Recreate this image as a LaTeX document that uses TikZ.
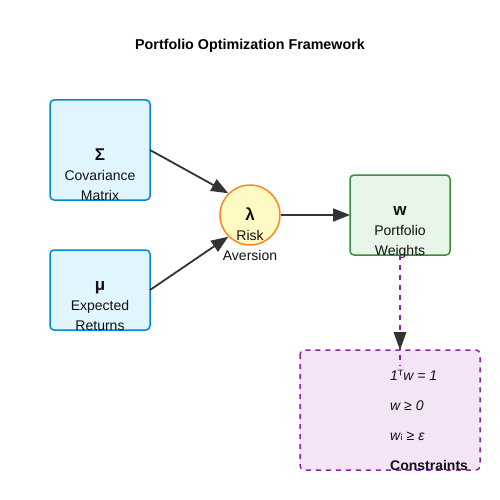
\documentclass[tikz,border=0pt]{standalone}
\usepackage{fontspec}
\setmainfont{Liberation Sans}
\newfontfamily\djv{DejaVu Sans}
\usetikzlibrary{arrows.meta}
\definecolor{bluefill}{HTML}{E1F5FE}
\definecolor{bluedraw}{HTML}{0288D1}
\definecolor{yelfill}{HTML}{FFF9C4}
\definecolor{yeldraw}{HTML}{F9891F}
\definecolor{grnfill}{HTML}{E8F5E9}
\definecolor{grndraw}{HTML}{388E3C}
\definecolor{purfill}{HTML}{F3E5F5}
\definecolor{purdraw}{HTML}{8E24AA}
\definecolor{arr}{HTML}{333333}
\definecolor{txt}{HTML}{111111}
\tikzset{
  box/.style={draw, line width=1.5pt, rounded corners=4pt},
  lbl/.style={anchor=base, inner sep=0pt, font=\fontsize{14}{16}\selectfont, text=txt},
  sym/.style={anchor=base, inner sep=0pt, font=\fontsize{17}{19}\selectfont\bfseries, text=txt},
  cons/.style={anchor=base west, inner sep=0pt, font=\fontsize{14}{16}\selectfont\itshape, text=txt},
  conn/.style={draw=arr, line width=1.8pt, -{Triangle[length=17pt,width=13pt]}},
}
\begin{document}
\begin{tikzpicture}[x=1pt,y=-1pt]
\useasboundingbox (0,0) rectangle (500,500);
\node[anchor=base, inner sep=0pt, font=\fontsize{14.3}{16}\selectfont\bfseries] (title) at (250,50) {Portfolio Optimization Framework};
% boxes
\path[box, draw=bluedraw, fill=bluefill] (50,100) rectangle (150,200);
\coordinate (sigE) at (150,150);
\path[box, draw=bluedraw, fill=bluefill] (50,250) rectangle (150,330);
\coordinate (muE) at (150,290);
\node[draw=yeldraw, fill=yelfill, line width=1.5pt, circle, minimum size=60pt, inner sep=0pt] (lam) at (250,215) {};
\path[box, draw=grndraw, fill=grnfill] (350,175) rectangle (450,255);
\coordinate (wW) at (350,215);
\coordinate (wS) at (400,255);
\path[draw=purdraw, fill=purfill, line width=1.5pt, dashed, dash pattern=on 5pt off 5pt, rounded corners=4pt] (300,350) rectangle (480,470);
\coordinate (cN) at (400,350);
% texts
\node[sym] (s1) at (100,160) {Σ};
\node[lbl] (s2) at (100,180) {Covariance};
\node[lbl] (s3) at (100,200) {Matrix};
\node[sym] (m1) at (100,290) {μ};
\node[lbl] (m2) at (100,310) {Expected};
\node[lbl] (m3) at (100,330) {Returns};
\node[sym] (l1) at (250,220) {λ};
\node[lbl] (l2) at (250,240) {Risk};
\node[lbl] (l3) at (250,260) {Aversion};
\node[sym] (w1) at (400,215) {w};
\node[lbl] (w2) at (400,235) {Portfolio};
\node[lbl] (w3) at (400,255) {Weights};
\node[cons] (c1) at (390,380) {1{\djv\upshape ᵀ}w = 1};
\node[cons] (c2) at (390,410) {w ≥ 0};
\node[cons] (c3) at (390,440) {w{\djv\upshape ᵢ} ≥ ε};
\node[anchor=base west, inner sep=0pt, font=\fontsize{14}{16}\selectfont\bfseries, text=txt] (c4) at (390,470) {Constraints};
% connectors
\draw[conn] (sigE) -- (lam.north west);
\draw[conn] (muE) -- (lam.south west);
\draw[conn] (lam.east) -- (wW);
\draw[draw=purdraw, line width=1.8pt, dash pattern=on 5pt off 5pt] (wS) -- ([yshift=-16pt]cN);
\path[fill=arr] (cN) -- ++(-6.5,-18) -- ++(13,0) -- cycle;
\end{tikzpicture}
\end{document}
